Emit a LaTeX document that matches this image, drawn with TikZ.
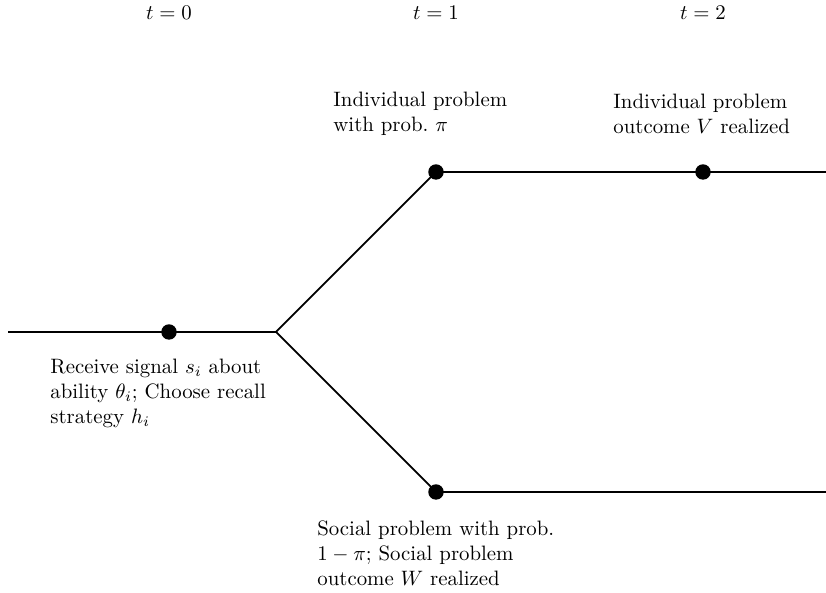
\documentclass[tikz,border=0pt]{standalone}
\begin{document}
\begin{tikzpicture}[x=0.48pt,y=-0.48pt,
  edge/.style={line width=0.85pt},
  dotnode/.style={circle,fill=black,inner sep=0pt,minimum size=7.4pt},
  lbl/.style={anchor=north west,inner sep=0pt,align=left},
  tlbl/.style={inner sep=0pt,anchor=base}]
\useasboundingbox (0,0) rectangle (826,593);
% time labels
\node[tlbl] (t0) at (169,20) {$t=0$};
\node[tlbl] (t1) at (436,20) {$t=1$};
\node[tlbl] (t2) at (703,20) {$t=2$};
% coordinates
\coordinate (start) at (8,332);
\coordinate (fork) at (276,332);
\coordinate (upend) at (826,172);
\coordinate (downend) at (826,492);
\node[dotnode] (d0) at (169,332) {};
\node[dotnode] (d1) at (436,172) {};
\node[dotnode] (d2) at (703,172) {};
\node[dotnode] (d3) at (436,492) {};
% lines
\draw[edge] (start) -- (d0.center) -- (fork);
\draw[edge] (fork) -- (d1.center) -- (d2.center) -- (upend);
\draw[edge] (fork) -- (d3.center) -- (downend);
% texts
\node[lbl] (a) at (333,92) {Individual problem\\with prob.\ $\pi$};
\node[lbl] (b) at (613,94) {Individual problem\\outcome $V$ realized};
\node[lbl] (c) at (50,359) {Receive signal $s_i$ about\\ability $\theta_i$; Choose recall\\strategy $h_i$};
\node[lbl] (d) at (317,520) {Social problem with prob.\\$1-\pi$; Social problem\\outcome $W$ realized};
\end{tikzpicture}
\end{document}
